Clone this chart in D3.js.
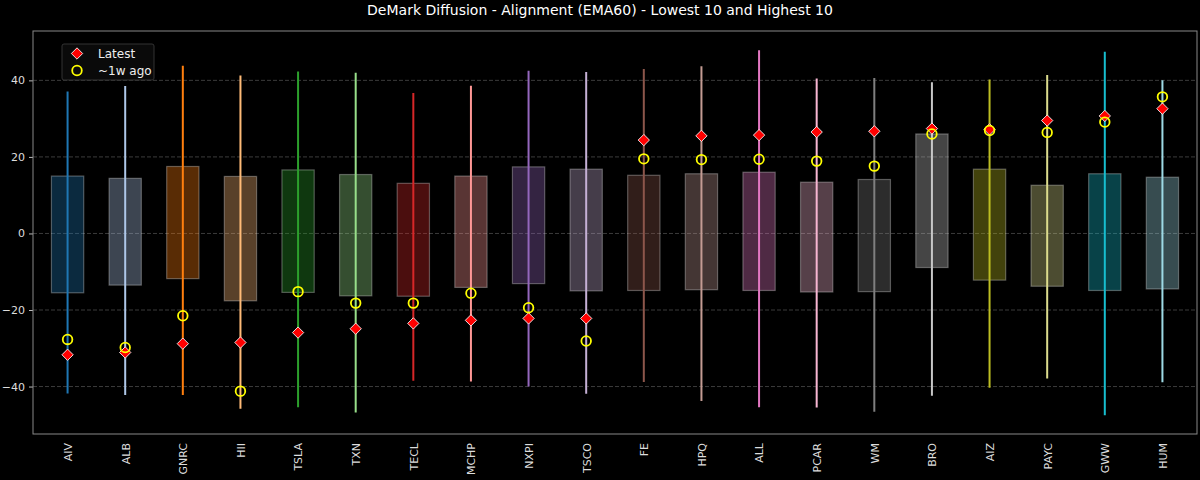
<!DOCTYPE html>
<html>
<head>
<meta charset="utf-8">
<script src="https://cdn.jsdelivr.net/npm/d3@7"></script>
<style>
  body { margin: 0; background: #000; }
  svg { display: block; font-family: "DejaVu Sans", sans-serif; }
</style>
</head>
<body>
<svg width="1200" height="480"></svg>
<script>
// tickers, lowest 10 then highest 10
var tickers = ["AIV", "ALB", "GNRC", "HII", "TSLA", "TXN", "TECL", "MCHP", "NXPI", "TSCO",
               "FE", "HPQ", "ALL", "PCAR", "WM", "BRO", "AIZ", "PAYC", "GWW", "HUM"];
var lows   = [-41.8, -42.2, -42.2, -45.8, -45.4, -46.8, -38.5, -38.7, -40.0, -41.9,
              -38.8, -43.8, -45.4, -45.5, -46.6, -42.4, -40.3, -37.9, -47.5, -38.9];
var highs  = [37.1, 38.5, 43.8, 41.3, 42.3, 42.0, 36.7, 38.6, 42.5, 42.2,
              43.0, 43.7, 47.9, 40.5, 40.6, 39.5, 40.2, 41.4, 47.5, 40.0];
var q1     = [-15.5, -13.5, -11.8, -17.6, -15.4, -16.3, -16.4, -14.1, -13.1, -15.0,
              -14.9, -14.7, -14.9, -15.3, -15.2, -8.9, -12.2, -13.8, -14.9, -14.5];
var q3     = [15.0, 14.4, 17.5, 14.9, 16.6, 15.4, 13.1, 15.0, 17.4, 16.8,
              15.2, 15.6, 16.0, 13.4, 14.1, 26.0, 16.8, 12.6, 15.6, 14.7];
var latest = [-31.7, -31.1, -28.8, -28.5, -25.9, -24.9, -23.5, -22.7, -22.2, -22.2,
              24.4, 25.5, 25.7, 26.5, 26.7, 27.4, 27.2, 29.5, 30.7, 32.6];
var weekAgo = [-27.7, -29.8, -21.5, -41.2, -15.2, -18.2, -18.2, -15.6, -19.4, -28.1,
               19.5, 19.3, 19.4, 18.9, 17.6, 26.0, 26.9, 26.4, 29.1, 35.7];
var yTicks = [-40, -20, 0, 20, 40];

var colors = ["#1f77b4", "#aec7e8", "#ff7f0e", "#ffbb78", "#2ca02c", "#98df8a", "#d62728", "#ff9896",
              "#9467bd", "#c5b0d5", "#8c564b", "#c49c94", "#e377c2", "#f7b6d2", "#7f7f7f", "#c7c7c7",
              "#bcbd22", "#dbdb8d", "#17becf", "#9edae5"];

var svg = d3.select("svg");
var mLeft = 33, mRight = 1197, mTop = 31, mBottom = 434;

var x = d3.scalePoint().domain(tickers).range([mLeft, mRight]).padding(0.6);
var y = d3.scaleLinear().domain([-52.4, 52.9]).range([mBottom, mTop]);
var boxW = x.step() * 0.56;

var data = tickers.map(function(t, i) {
  return { t: t, lo: lows[i], hi: highs[i], q1: q1[i], q3: q3[i], now: latest[i], ago: weekAgo[i], c: colors[i] };
});

// title
svg.append("text")
  .attr("x", 600).attr("y", 15)
  .attr("text-anchor", "middle")
  .attr("fill", "#fff")
  .style("font-size", "14px")
  .text("DeMark Diffusion - Alignment (EMA60) - Lowest 10 and Highest 10");

// grid
svg.append("g").selectAll("line")
  .data(yTicks).enter().append("line")
  .attr("x1", mLeft).attr("x2", mRight)
  .attr("y1", function(d) { return y(d); })
  .attr("y2", function(d) { return y(d); })
  .attr("stroke", "#4a4a4a")
  .attr("stroke-width", 0.8)
  .attr("stroke-dasharray", "4,2");

// y axis
var yAxis = svg.append("g")
  .attr("transform", "translate(" + mLeft + ",0)")
  .call(d3.axisLeft(y).tickValues(yTicks).tickSize(4).tickPadding(4)
    .tickFormat(function(d) { return d < 0 ? "\u2212" + Math.abs(d) : d; }));
yAxis.select(".domain").remove();
yAxis.selectAll("line").attr("stroke", "#bbb");
yAxis.selectAll("text").attr("fill", "#ddd").style("font-size", "11px").style("font-family", "DejaVu Sans");

// x axis labels
var xAxis = svg.append("g")
  .attr("transform", "translate(0," + mBottom + ")")
  .call(d3.axisBottom(x).tickSize(0).tickPadding(0));
xAxis.select(".domain").remove();
xAxis.selectAll("text")
  .attr("fill", "#ddd")
  .style("font-size", "11px")
  .style("font-family", "DejaVu Sans")
  .attr("text-anchor", "end")
  .attr("dy", "0.35em")
  .attr("transform", "translate(0,9) rotate(-90)")
  .attr("x", 0).attr("y", 0);

var g = svg.append("g");

// boxes
g.selectAll(".box")
  .data(data).enter().append("rect")
  .attr("class", "box")
  .attr("x", function(d) { return x(d.t) - boxW / 2; })
  .attr("y", function(d) { return y(d.q3); })
  .attr("width", boxW)
  .attr("height", function(d) { return y(d.q1) - y(d.q3); })
  .attr("fill", function(d) { return d.c; })
  .attr("fill-opacity", 0.35)
  .attr("stroke", "#fff")
  .attr("stroke-opacity", 0.3)
  .attr("stroke-width", 1.2);

// whiskers
g.selectAll(".whisker")
  .data(data).enter().append("line")
  .attr("class", "whisker")
  .attr("x1", function(d) { return x(d.t); })
  .attr("x2", function(d) { return x(d.t); })
  .attr("y1", function(d) { return y(d.lo); })
  .attr("y2", function(d) { return y(d.hi); })
  .attr("stroke", function(d) { return d.c; })
  .attr("stroke-width", 2);

var diamond = d3.symbol().type(d3.symbolSquare).size(64);

// latest
g.selectAll(".now")
  .data(data).enter().append("path")
  .attr("class", "now")
  .attr("d", diamond)
  .attr("transform", function(d) { return "translate(" + x(d.t) + "," + y(d.now) + ") rotate(45)"; })
  .attr("fill", "#ff0000")
  .attr("stroke", "#fff")
  .attr("stroke-width", 0.8);

// ~1w ago
g.selectAll(".ago")
  .data(data).enter().append("circle")
  .attr("class", "ago")
  .attr("cx", function(d) { return x(d.t); })
  .attr("cy", function(d) { return y(d.ago); })
  .attr("r", 4.8)
  .attr("fill", "none")
  .attr("stroke", "#ffff00")
  .attr("stroke-width", 1.8);

// frame
svg.append("rect")
  .attr("x", mLeft).attr("y", mTop)
  .attr("width", mRight - mLeft).attr("height", mBottom - mTop)
  .attr("fill", "none")
  .attr("stroke", "#888")
  .attr("stroke-width", 1);

// legend
var leg = svg.append("g").attr("transform", "translate(62,44)");
leg.append("rect")
  .attr("width", 92).attr("height", 36).attr("rx", 2)
  .attr("fill", "#0a0a0a")
  .attr("stroke", "#333");
leg.append("path")
  .attr("d", diamond)
  .attr("transform", "translate(15,9.5) rotate(45)")
  .attr("fill", "#ff0000").attr("stroke", "#fff").attr("stroke-width", 0.8);
leg.append("circle")
  .attr("cx", 15).attr("cy", 26.5).attr("r", 4.8)
  .attr("fill", "none").attr("stroke", "#ffff00").attr("stroke-width", 1.8);
leg.append("text").attr("x", 36).attr("y", 13.5).attr("fill", "#eee").style("font-size", "12px").text("Latest");
leg.append("text").attr("x", 36).attr("y", 30.5).attr("fill", "#eee").style("font-size", "12px").text("~1w ago");
</script>
</body>
</html>
